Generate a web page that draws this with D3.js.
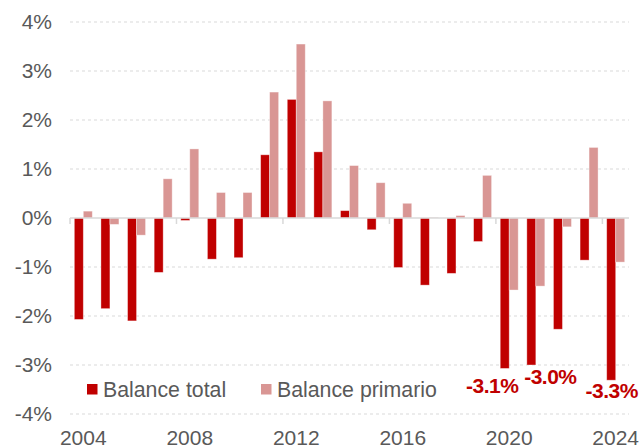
<!DOCTYPE html>
<html><head><meta charset="utf-8">
<script src="https://cdn.jsdelivr.net/npm/d3@7"></script>
<style>body{margin:0;background:#fff}svg{display:block}text{font-family:"Liberation Sans",Arial,sans-serif}</style>
</head><body><svg id="c" width="640" height="448"></svg>
<script>
const years = ["2004","2005","2006","2007","2008","2009","2010","2011","2012","2013","2014","2015","2016","2017","2018","2019","2020","2021","2022","2023","2024"];
const balanceTotal = [-2.07,-1.85,-2.10,-1.11,-0.05,-0.84,-0.81,1.29,2.42,1.35,0.15,-0.24,-1.01,-1.37,-1.13,-0.48,-3.07,-3.00,-2.27,-0.86,-3.31];
const balancePrimario = [0.14,-0.13,-0.35,0.80,1.41,0.52,0.52,2.57,3.55,2.39,1.07,0.72,0.30,0.01,0.05,0.87,-1.47,-1.39,-0.18,1.44,-0.90];
const seriesNames = ["Balance total","Balance primario"];
const yTicks = [4,3,2,1,0,-1,-2,-3,-4];
const xTickLabels = ["2004","2008","2012","2016","2020","2024"];
const annotYears = ["2020","2021","2024"];
const annotTexts = ["-3.1%","-3.0%","-3.3%"];

const colors = ["#C00000","#D99694"];
const gray = "#595959";
const svg = d3.select("#c");
const x = d3.scaleBand().domain(years).range([70,629]);
const x1 = d3.scaleBand().domain([0,1]).range([0,x.bandwidth()]).paddingOuter(0.48);
const y = d3.scaleLinear().domain([-4,4]).range([414,22]);

// gridlines
svg.append("g").selectAll("line").data(yTicks.filter(d=>d!==0)).join("line")
  .attr("x1",70).attr("x2",629).attr("y1",d=>y(d)).attr("y2",d=>y(d))
  .attr("stroke","#D9D9D9").attr("stroke-width",1).attr("stroke-dasharray","3,3");

// y labels
svg.append("g").selectAll("text").data(yTicks).join("text")
  .attr("x",52).attr("y",d=>y(d)).attr("dy","0.35em").attr("text-anchor","end")
  .attr("fill",gray).attr("font-size",21).text(d=>d+"%");

// bars
const data = years.map((yr,i)=>({yr,vals:[balanceTotal[i],balancePrimario[i]]}));
const g = svg.append("g").selectAll("g").data(data).join("g").attr("transform",d=>`translate(${x(d.yr)},0)`);
g.selectAll("rect").data(d=>d.vals.map((v,k)=>({v,k}))).join("rect")
  .attr("x",d=>x1(d.k)).attr("width",x1.bandwidth())
  .attr("y",d=>y(Math.max(0,d.v))).attr("height",d=>Math.abs(y(d.v)-y(0)))
  .attr("fill",d=>colors[d.k]).attr("stroke","#fff").attr("stroke-opacity",0.45).attr("stroke-width",0.8);

// zero axis
svg.append("line").attr("x1",70).attr("x2",629).attr("y1",y(0)).attr("y2",y(0))
  .attr("stroke","#D9D9D9").attr("stroke-width",1.5);
const tickYears = years.filter((d,i)=>i%4===0);
svg.append("g").selectAll("line").data(tickYears).join("line")
  .attr("x1",d=>x(d)).attr("x2",d=>x(d)).attr("y1",y(0)).attr("y2",y(0)+6)
  .attr("stroke","#D9D9D9").attr("stroke-width",1.5);

// x labels
svg.append("g").selectAll("text").data(xTickLabels).join("text")
  .attr("x",d=>x(d)+x.bandwidth()/2).attr("y",445).attr("text-anchor","middle")
  .attr("fill",gray).attr("font-size",21).text(d=>d);

// legend
const legX = [87,261];
const leg = svg.append("g").selectAll("g").data(seriesNames).join("g");
leg.append("rect").attr("x",(d,i)=>legX[i]).attr("y",384).attr("width",10.5).attr("height",10.5).attr("fill",(d,i)=>colors[i]);
leg.append("text").attr("x",(d,i)=>legX[i]+16).attr("y",397).attr("fill",gray).attr("font-size",21.3).text(d=>d);

// annotations
const annotDx = [-17,14.5,-4];
const annotDy = [25,19,18];
svg.append("g").selectAll("text").data(annotYears).join("text")
  .attr("x",(d,i)=>x(d)+x.bandwidth()/2+annotDx[i])
  .attr("y",(d,i)=>y(balanceTotal[years.indexOf(d)])+annotDy[i])
  .attr("text-anchor","middle").attr("fill","#C00000").attr("font-weight","bold")
  .attr("font-size",21).attr("letter-spacing","-0.5").text((d,i)=>annotTexts[i]);
</script></body></html>
